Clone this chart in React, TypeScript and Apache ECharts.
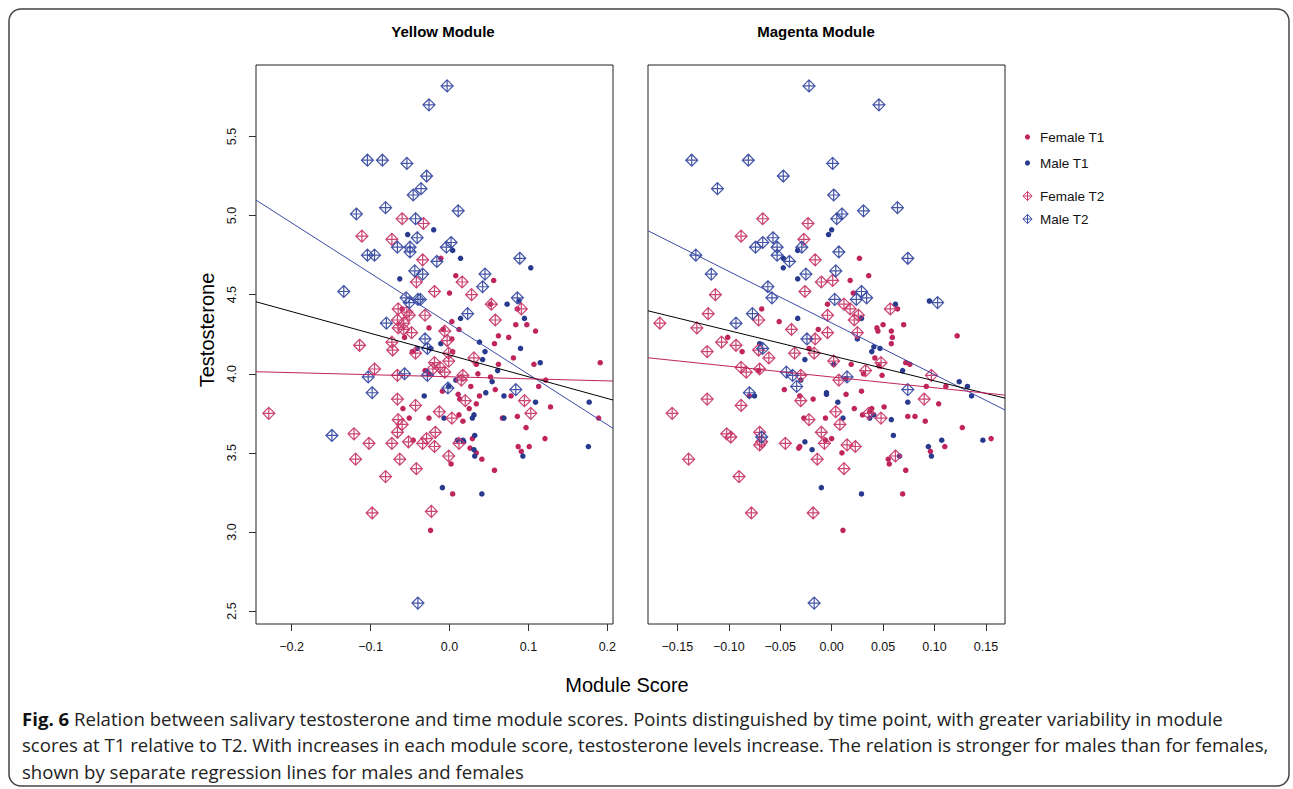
import React, { useEffect, useRef } from "react";
import * as echarts from "echarts";

// ---------- data (module score, testosterone) ----------
const yellowFemaleT1 = [
  [-0.011,4.73],[0.008,4.62],[0.056,4.59],[0.000,4.51],[0.052,4.44],[0.086,4.41],[-0.060,4.41],[0.003,4.33],[0.098,4.31],[0.084,4.31],
  [-0.026,4.29],[-0.008,4.28],[0.012,4.28],[0.109,4.27],[-0.057,4.23],[0.062,4.24],[0.075,4.23],[0.003,4.22],[0.057,4.19],[-0.047,4.14],
  [0.004,4.14],[0.081,4.10],[0.034,4.06],[0.062,4.06],[0.107,4.06],[0.191,4.07],[-0.031,4.02],[0.036,4.00],[0.052,3.98],[-0.026,4.00],
  [0.122,3.96],[0.113,3.92],[-0.009,3.89],[0.027,3.92],[0.058,3.90],[0.011,3.87],[0.013,3.84],[0.038,3.86],[0.078,3.86],[0.034,3.81],
  [0.128,3.79],[-0.059,3.78],[0.025,3.78],[0.012,3.74],[0.086,3.73],[-0.051,3.72],[-0.026,3.72],[0.017,3.70],[0.067,3.72],[0.189,3.72],
  [0.097,3.66],[-0.046,3.58],[0.029,3.59],[0.026,3.53],[0.034,3.50],[0.041,3.46],[0.087,3.54],[0.101,3.54],[0.091,3.51],[0.121,3.59],
  [0.002,3.43],[0.057,3.39],[0.004,3.24],[-0.024,3.01]
];
const yellowMaleT1 = [
  [-0.020,4.91],[-0.053,4.88],[0.004,4.78],[0.014,4.73],[0.103,4.67],[-0.063,4.60],[0.088,4.46],[0.073,4.44],[0.095,4.35],[0.014,4.35],
  [-0.011,4.19],[0.038,4.20],[-0.041,4.16],[-0.024,4.16],[0.045,4.14],[0.090,4.16],[0.042,4.09],[0.115,4.07],[0.061,4.02],[0.008,3.96],
  [0.054,3.95],[0.177,3.82],[-0.001,3.92],[0.046,3.88],[0.069,3.86],[-0.032,3.86],[0.109,3.82],[0.031,3.74],[0.029,3.72],[-0.007,3.72],
  [0.069,3.72],[0.010,3.58],[0.017,3.58],[0.018,3.57],[0.032,3.61],[0.031,3.52],[0.032,3.48],[0.093,3.48],[0.176,3.54],[-0.009,3.28],
  [0.041,3.24]
];
const yellowFemaleT2 = [
  [-0.060,4.98],[-0.033,4.95],[-0.111,4.87],[-0.073,4.85],[-0.034,4.72],[-0.042,4.58],[0.016,4.58],[-0.019,4.52],[0.028,4.50],[0.053,4.44],
  [0.091,4.41],[-0.065,4.41],[-0.054,4.39],[-0.051,4.37],[-0.031,4.37],[0.058,4.34],[-0.066,4.34],[-0.058,4.32],[-0.065,4.29],[-0.058,4.28],
  [-0.048,4.26],[-0.006,4.27],[-0.003,4.21],[-0.114,4.18],[-0.073,4.20],[-0.072,4.15],[-0.043,4.13],[-0.001,4.13],[0.031,4.10],[-0.019,4.07],
  [-0.001,4.08],[-0.012,4.04],[-0.021,4.03],[-0.006,4.01],[-0.095,4.03],[-0.066,3.99],[0.017,3.99],[0.015,3.96],[0.020,3.83],[-0.066,3.84],
  [0.095,3.83],[-0.043,3.80],[0.103,3.75],[-0.229,3.75],[-0.013,3.76],[0.003,3.72],[-0.065,3.71],[-0.060,3.68],[-0.066,3.63],[-0.018,3.63],
  [-0.121,3.62],[-0.029,3.59],[-0.034,3.56],[-0.052,3.57],[-0.102,3.56],[-0.073,3.56],[-0.019,3.54],[0.012,3.56],[-0.119,3.46],[-0.063,3.46],
  [-0.001,3.48],[-0.042,3.40],[-0.081,3.35],[-0.098,3.12],[-0.023,3.13]
];
const yellowMaleT2 = [
  [-0.003,5.82],[-0.026,5.70],[-0.104,5.35],[-0.085,5.35],[-0.054,5.33],[-0.029,5.25],[-0.036,5.17],[-0.046,5.13],[-0.118,5.01],[-0.081,5.05],
  [0.011,5.03],[-0.043,4.98],[-0.041,4.86],[-0.066,4.80],[-0.050,4.80],[-0.004,4.80],[0.002,4.83],[-0.104,4.75],[-0.095,4.75],[-0.050,4.77],
  [-0.016,4.71],[0.089,4.73],[-0.044,4.65],[-0.034,4.63],[0.045,4.63],[-0.134,4.52],[0.042,4.55],[-0.055,4.48],[-0.051,4.45],[-0.040,4.47],
  [-0.037,4.47],[0.086,4.48],[0.023,4.38],[-0.080,4.32],[-0.031,4.22],[-0.028,4.16],[-0.103,3.98],[-0.057,4.00],[-0.028,3.99],[-0.098,3.88],
  [-0.002,3.91],[0.084,3.90],[-0.149,3.61],[-0.040,2.55]
];

const magentaFemaleT1 = [
  [0.027,4.73],[0.036,4.62],[0.018,4.59],[0.021,4.51],[-0.004,4.44],[0.064,4.41],[-0.068,4.41],[-0.051,4.33],[-0.013,4.28],[0.044,4.29],
  [0.045,4.27],[0.050,4.31],[0.058,4.27],[0.070,4.31],[0.059,4.23],[0.058,4.19],[0.122,4.24],[-0.101,4.23],[-0.087,4.14],[-0.022,4.16],
  [0.042,4.10],[0.019,4.06],[0.046,4.05],[0.072,4.07],[0.076,4.06],[-0.071,4.02],[0.031,4.00],[0.049,3.99],[0.014,3.97],[0.111,3.92],
  [0.092,3.92],[-0.046,3.90],[0.029,3.89],[0.014,3.87],[-0.080,3.86],[-0.031,3.86],[-0.018,3.84],[0.104,3.81],[0.022,3.78],[0.039,3.78],
  [0.037,3.76],[0.051,3.79],[0.030,3.74],[0.074,3.73],[0.081,3.73],[-0.027,3.72],[-0.006,3.72],[0.091,3.70],[0.127,3.66],[0.000,3.59],
  [0.155,3.59],[-0.032,3.53],[-0.031,3.54],[-0.006,3.58],[0.010,3.50],[0.055,3.46],[0.056,3.43],[0.072,3.39],[0.096,3.51],[0.110,3.54],
  [0.069,3.24],[0.011,3.01]
];
const magentaMaleT1 = [
  [0.000,4.91],[-0.003,4.88],[-0.033,4.78],[-0.047,4.73],[-0.047,4.67],[-0.033,4.60],[0.062,4.44],[0.095,4.46],[0.029,4.35],[-0.033,4.35],
  [0.025,4.22],[-0.070,4.19],[0.041,4.17],[0.039,4.14],[0.047,4.16],[-0.026,4.09],[0.002,4.06],[0.069,4.02],[-0.030,3.96],[0.124,3.95],
  [0.132,3.92],[0.136,3.86],[-0.005,3.88],[-0.005,3.87],[-0.075,3.86],[0.006,3.82],[0.074,3.82],[0.041,3.74],[0.037,3.72],[0.058,3.71],
  [0.011,3.72],[0.060,3.61],[0.107,3.58],[0.147,3.58],[-0.026,3.57],[-0.019,3.52],[0.066,3.48],[0.094,3.54],[0.097,3.48],[-0.010,3.28],
  [0.029,3.24]
];
const magentaFemaleT2 = [
  [-0.067,4.98],[-0.023,4.95],[-0.088,4.87],[-0.027,4.85],[-0.016,4.72],[-0.010,4.58],[0.001,4.59],[-0.113,4.50],[-0.026,4.52],[0.012,4.44],
  [0.018,4.41],[0.057,4.41],[-0.120,4.38],[-0.004,4.37],[0.026,4.37],[0.022,4.34],[-0.071,4.34],[-0.167,4.32],[-0.131,4.29],[-0.039,4.28],
  [-0.004,4.26],[0.025,4.26],[-0.107,4.20],[-0.093,4.18],[-0.016,4.22],[-0.071,4.15],[-0.121,4.14],[-0.017,4.13],[-0.036,4.13],[-0.061,4.10],
  [0.002,4.08],[0.048,4.07],[-0.088,4.04],[-0.083,4.01],[-0.070,4.03],[0.033,4.02],[-0.030,3.99],[0.007,3.96],[0.097,3.99],[-0.030,3.83],
  [-0.121,3.84],[0.090,3.84],[-0.088,3.80],[0.036,3.75],[-0.155,3.75],[0.004,3.76],[0.048,3.72],[-0.022,3.71],[0.008,3.68],[-0.010,3.63],
  [-0.102,3.62],[-0.098,3.60],[-0.070,3.63],[-0.070,3.55],[-0.068,3.57],[-0.045,3.56],[-0.007,3.56],[0.015,3.55],[0.023,3.54],[0.062,3.48],
  [-0.139,3.46],[-0.014,3.46],[0.012,3.40],[-0.090,3.35],[-0.078,3.12],[-0.018,3.12]
];
const magentaMaleT2 = [
  [-0.022,5.82],[0.046,5.70],[-0.136,5.35],[-0.081,5.35],[0.001,5.33],[-0.047,5.25],[-0.111,5.17],[0.002,5.13],[0.010,5.01],[0.005,4.98],
  [0.031,5.03],[0.064,5.05],[-0.057,4.86],[-0.067,4.83],[-0.074,4.80],[-0.029,4.80],[-0.053,4.80],[-0.132,4.75],[-0.053,4.75],[0.007,4.77],
  [0.074,4.73],[-0.041,4.71],[0.004,4.65],[-0.117,4.63],[-0.025,4.63],[0.029,4.52],[0.024,4.47],[0.034,4.48],[0.003,4.47],[-0.062,4.55],
  [-0.058,4.48],[0.103,4.45],[-0.077,4.38],[-0.093,4.32],[-0.024,4.22],[-0.067,4.16],[-0.044,4.01],[-0.038,3.99],[0.015,3.98],[-0.034,3.92],
  [0.074,3.90],[-0.080,3.88],[-0.068,3.60],[-0.017,2.55]
];

// regression lines (endpoints at the axis limits)
const yellowRange = [-0.2452, 0.2072];
const magentaRange = [-0.1785, 0.1685];
const testosteroneRange = [2.418, 5.952];
const yellowMaleLine = [[-0.2452, 5.098], [0.2072, 3.655]];
const yellowAllLine = [[-0.2452, 4.455], [0.2072, 3.834]];
const yellowFemaleLine = [[-0.2452, 4.013], [0.2072, 3.954]];
const magentaMaleLine = [[-0.1785, 4.904], [0.1685, 3.771]];
const magentaAllLine = [[-0.1785, 4.398], [0.1685, 3.846]];
const magentaFemaleLine = [[-0.1785, 4.101], [0.1685, 3.865]];

const yellowTicks = [-0.2, -0.1, 0, 0.1, 0.2];
const magentaTicks = [-0.15, -0.1, -0.05, 0, 0.05, 0.1, 0.15];
const yTicks = [2.5, 3, 3.5, 4, 4.5, 5, 5.5];

const legendItems = ["Female T1", "Male T1", "Female T2", "Male T2"];
const panelTitles = ["Yellow Module", "Magenta Module"];
const captionLines = [
  "{b|Fig. 6} Relation between salivary testosterone and time module scores. Points distinguished by time point, with greater variability in module",
  "scores at T1 relative to T2. With increases in each module score, testosterone levels increase. The relation is stronger for males than for females,",
  "shown by separate regression lines for males and females",
];

// ---------- styles ----------
const FONT = '"Liberation Sans", Arial, Helvetica, sans-serif';
const CAP_FONT = '"Open Sans", "Noto Sans", sans-serif';
const CAP_SIZE = 18.6;
const C_F1 = "#C0245C";
const C_M1 = "#283A8E";
const C_F2 = "#C83A6B";
const C_M2 = "#3A4CA2";
const C_LINE_M = "#3B4BA6";
const C_LINE_F = "#C0245C";
const DIAMOND = "path://M6,0L12,6L6,12L0,6ZM6,0L6,12M0,6L12,6";

const fmt = (d: number) => (v: number) => {
  const s = Math.abs(v) < 1e-9 ? (0).toFixed(d) : v.toFixed(d);
  return s.replace("-", "\u2212");
};

function dots(name: string, data: number[][], idx: number, color: string) {
  return {
    type: "scatter", name, data, xAxisIndex: idx, yAxisIndex: idx,
    symbol: "circle", symbolSize: 5.5,
    itemStyle: { color, opacity: 1 }, z: 2,
  };
}
function diamonds(name: string, data: number[][], idx: number, color: string) {
  return {
    type: "scatter", name, data, xAxisIndex: idx, yAxisIndex: idx,
    symbol: DIAMOND, symbolSize: 12,
    itemStyle: { color: "rgba(0,0,0,0)", borderColor: color, borderWidth: 1.2, opacity: 0.95 }, z: 3,
  };
}
function regLine(data: number[][], idx: number, color: string) {
  return {
    type: "line", data, xAxisIndex: idx, yAxisIndex: idx,
    symbol: "none", showSymbol: false, silent: true,
    lineStyle: { color, width: 1 }, z: 5,
  };
}

function legendGraphic() {
  const els: any[] = [];
  const ys = [137, 163, 196, 219];
  const cols = [C_F1, C_M1, C_F2, C_M2];
  ys.forEach((y, i) => {
    const cx = 1027.5;
    if (i < 2) {
      els.push({ type: "circle", shape: { cx, cy: y, r: 2.6 }, style: { fill: cols[i] } });
    } else {
      const h = 4.6;
      els.push({ type: "polygon", shape: { points: [[cx, y - h], [cx + h, y], [cx, y + h], [cx - h, y]] }, style: { fill: "none", stroke: cols[i], lineWidth: 1 } });
      els.push({ type: "line", shape: { x1: cx, y1: y - h, x2: cx, y2: y + h }, style: { stroke: cols[i], lineWidth: 1 } });
      els.push({ type: "line", shape: { x1: cx - h, y1: y, x2: cx + h, y2: y }, style: { stroke: cols[i], lineWidth: 1 } });
    }
    els.push({ type: "text", x: 1040, y, style: { text: legendItems[i], fill: "#111", fontSize: 13.5, fontFamily: FONT, textAlign: "left", textVerticalAlign: "middle" } });
  });
  return els;
}

export default function App() {
  const ref = useRef<HTMLDivElement>(null);
  useEffect(() => {
    if (!ref.current) return;
    const chart = echarts.init(ref.current, null, { renderer: "svg" });
    const xAxisBase = (idx: number, range: number[], ticks: number[], d: number) => ({
      type: "value", gridIndex: idx, min: range[0], max: range[1],
      axisLine: { show: false, onZero: false },
      splitLine: { show: false },
      axisTick: { show: true, length: 7, customValues: ticks, lineStyle: { color: "#333", width: 1 } },
      axisLabel: { show: true, customValues: ticks, formatter: fmt(d), margin: 16, fontSize: 12.5, color: "#111", fontFamily: FONT },
    });
    const option: any = {
      animation: false,
      backgroundColor: "#fff",
      grid: [
        { left: 256, top: 65, width: 357, height: 559, show: true, borderColor: "#222", borderWidth: 1, backgroundColor: "rgba(0,0,0,0)" },
        { left: 648, top: 65, width: 357, height: 559, show: true, borderColor: "#222", borderWidth: 1, backgroundColor: "rgba(0,0,0,0)" },
      ],
      xAxis: [
        xAxisBase(0, yellowRange, yellowTicks, 1),
        xAxisBase(1, magentaRange, magentaTicks, 2),
      ],
      yAxis: [
        {
          type: "value", gridIndex: 0, min: testosteroneRange[0], max: testosteroneRange[1],
          axisLine: { show: false, onZero: false }, splitLine: { show: false },
          axisTick: { show: true, length: 7, customValues: yTicks, lineStyle: { color: "#333", width: 1 } },
          axisLabel: { show: true, customValues: yTicks, rotate: 90, formatter: fmt(1), margin: 18, fontSize: 12.5, color: "#111", fontFamily: FONT },
        },
        {
          type: "value", gridIndex: 1, min: testosteroneRange[0], max: testosteroneRange[1],
          axisLine: { show: false, onZero: false }, splitLine: { show: false },
          axisTick: { show: false }, axisLabel: { show: false },
        },
      ],
      series: [
        dots("Female T1", yellowFemaleT1, 0, C_F1),
        dots("Male T1", yellowMaleT1, 0, C_M1),
        diamonds("Female T2", yellowFemaleT2, 0, C_F2),
        diamonds("Male T2", yellowMaleT2, 0, C_M2),
        regLine(yellowMaleLine, 0, C_LINE_M),
        regLine(yellowAllLine, 0, "#000"),
        regLine(yellowFemaleLine, 0, C_LINE_F),
        dots("Female T1", magentaFemaleT1, 1, C_F1),
        dots("Male T1", magentaMaleT1, 1, C_M1),
        diamonds("Female T2", magentaFemaleT2, 1, C_F2),
        diamonds("Male T2", magentaMaleT2, 1, C_M2),
        regLine(magentaMaleLine, 1, C_LINE_M),
        regLine(magentaAllLine, 1, "#000"),
        regLine(magentaFemaleLine, 1, C_LINE_F),
      ],
      graphic: [
        { type: "rect", shape: { x: 9, y: 9, width: 1280, height: 777, r: 12 }, style: { fill: "none", stroke: "#444", lineWidth: 1.5 }, z: -1 },
        { type: "text", x: 443, y: 31, style: { text: panelTitles[0], fill: "#000", fontSize: 15, fontWeight: "bold", fontFamily: FONT, textAlign: "center", textVerticalAlign: "middle" } },
        { type: "text", x: 816, y: 31, style: { text: panelTitles[1], fill: "#000", fontSize: 15, fontWeight: "bold", fontFamily: FONT, textAlign: "center", textVerticalAlign: "middle" } },
        { type: "text", x: 207, y: 330, rotation: Math.PI / 2, style: { text: "Testosterone", fill: "#000", fontSize: 20, fontFamily: FONT, textAlign: "center", textVerticalAlign: "middle" } },
        { type: "text", x: 627, y: 685, style: { text: "Module Score", fill: "#000", fontSize: 20, fontFamily: FONT, textAlign: "center", textVerticalAlign: "middle" } },
        ...legendGraphic(),
        ...captionLines.map((t, i) => ({
          type: "text", x: 22, y: 718 + i * 26.5,
          style: {
            text: t, fill: "#222", fontSize: CAP_SIZE, fontFamily: CAP_FONT, textAlign: "left", textVerticalAlign: "middle",
            rich: { b: { fontWeight: "bold", fontSize: CAP_SIZE, fontFamily: CAP_FONT, fill: "#111" } },
          },
        })),
      ],
    };
    chart.setOption(option);
    return () => chart.dispose();
  }, []);
  return (
    <div
      ref={ref}
      style={{ position: "fixed", left: 0, top: 0, width: 1293, height: 789, background: "#fff" }}
    />
  );
}
